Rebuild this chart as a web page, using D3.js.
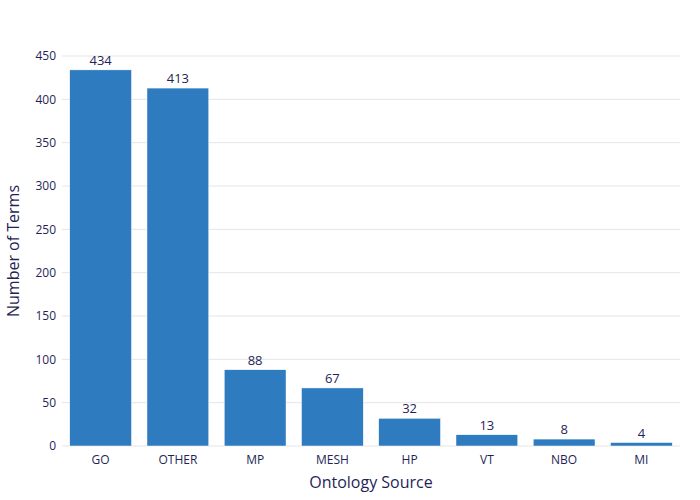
<!DOCTYPE html>
<html><head><meta charset="utf-8">
<script src="https://cdn.jsdelivr.net/npm/d3@7"></script>
<style>body{margin:0;background:#fff}text{font-family:"Open Sans",Verdana,sans-serif}</style>
</head><body><svg id="c" width="700" height="500"></svg>
<script>
const categories=["GO","OTHER","MP","MESH","HP","VT","NBO","MI"];
const values=[434,413,88,67,32,13,8,4];
const yTicks=[0,50,100,150,200,250,300,350,400,450];
const ink="#261f57";
const m={l:62,r:20,t:56,b:54};
const W=700,H=500;
const svg=d3.select("#c");
const x=d3.scaleBand().domain(categories).range([m.l,W-m.r]).paddingInner(0.2).paddingOuter(0.1);
const y=d3.scaleLinear().domain([0,450]).range([446,56]);
const g=svg.append("g");
g.selectAll("line.grid").data(yTicks).join("line").attr("x1",m.l).attr("x2",W-m.r)
 .attr("y1",d=>y(d)).attr("y2",d=>y(d)).attr("stroke","#e5e5e5").attr("stroke-width",1);
g.selectAll("rect").data(values).join("rect").attr("x",(d,i)=>x(categories[i])).attr("width",x.bandwidth())
 .attr("y",d=>y(d)).attr("height",d=>y(0)-y(d)).attr("fill","#2e7bbf").attr("stroke","#fff").attr("stroke-width",0.5);
g.selectAll("text.v").data(values).join("text").attr("x",(d,i)=>x(categories[i])+x.bandwidth()/2)
 .attr("y",d=>y(d)-5).attr("text-anchor","middle").attr("font-size",13).attr("fill",ink).text(d=>d);
const ya=svg.append("g").attr("transform",`translate(${m.l},0)`).call(d3.axisLeft(y).tickValues(yTicks).tickSize(0).tickPadding(6));
const xa=svg.append("g").attr("transform",`translate(0,446)`).call(d3.axisBottom(x).tickSize(0).tickPadding(9));
[ya,xa].forEach(a=>{a.select(".domain").remove();a.selectAll("text").attr("font-size",12).attr("fill",ink).style("font-family",'"Open Sans",Verdana,sans-serif');});
svg.append("text").attr("x",(m.l+W-m.r)/2).attr("y",488).attr("text-anchor","middle").attr("font-size",16).attr("fill",ink).text("Ontology Source");
svg.append("text").attr("transform",`translate(19,${y(225)}) rotate(-90)`).attr("text-anchor","middle").attr("font-size",16).attr("fill",ink).text("Number of Terms");
</script></body></html>
